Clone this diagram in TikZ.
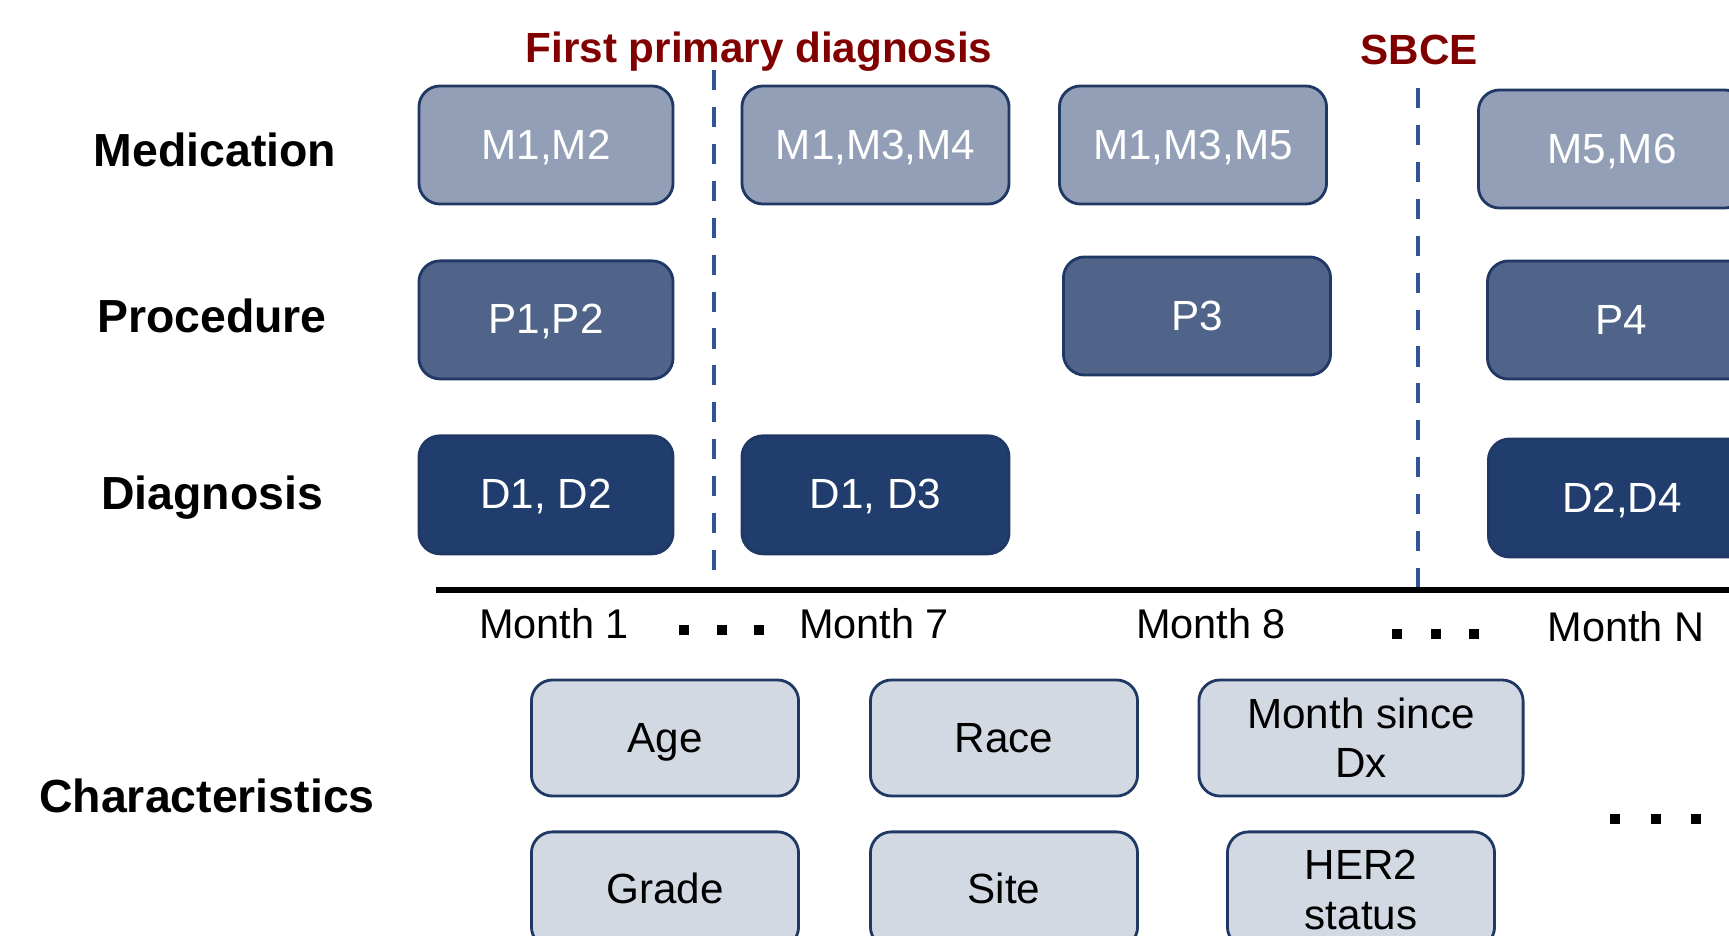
\documentclass[tikz,border=0pt]{standalone}
\usepackage{fontspec}
\setmainfont{Liberation Sans}
\usepackage{xcolor}
\usetikzlibrary{positioning}

\definecolor{medfill}{HTML}{929FB7}
\definecolor{procfill}{HTML}{506489}
\definecolor{diagfill}{HTML}{203D6D}
\definecolor{charfill}{HTML}{D3D9E3}
\definecolor{boxline}{HTML}{1F3864}
\definecolor{eventred}{HTML}{800000}
\definecolor{eventblue}{HTML}{2F5597}

\begin{document}
\begin{tikzpicture}[
    x=0.01cm, y=-0.01cm,
    every node/.style={align=center, font=\fontsize{12}{14}\selectfont}
]

\tikzset{
    codebox/.style={draw=boxline, line width=0.8pt, rounded corners=6pt, minimum width=2.67cm, minimum height=1.18cm, text=white, inner sep=2pt},
    oneline/.style={text height=0.8em, text depth=0em},
    medbox/.style={codebox, oneline, fill=medfill},
    procbox/.style={codebox, oneline, fill=procfill},
    diagbox/.style={codebox, oneline, fill=diagfill},
    charbox/.style={codebox, fill=charfill, text=black, minimum height=1.16cm},
    rowlabel/.style={font=\fontsize{13.2}{15}\selectfont\bfseries},
    eventlabel/.style={font=\fontsize{12}{14}\selectfont\bfseries, text=eventred},
    eventline/.style={draw=eventblue, line width=1.1pt, dash pattern=on 5.7pt off 4.8pt},
    monthlabel/.style={font=\fontsize{11.8}{14}\selectfont},
    dotmark/.style={fill=black, minimum size=3pt, inner sep=0pt}
}

\clip (0,0) rectangle (1729,936);

% row labels
\node [rowlabel] (medlabel) at (215,150) {Medication};
\node [rowlabel] (proclabel) at (212,316) {Procedure};
\node [rowlabel] (diaglabel) at (212,498) {Diagnosis};
\node [rowlabel] (charlabel) at (207,796) {Characteristics};

% events
\node [eventlabel] (firstdx) at (759,52) {First primary diagnosis};
\node [eventlabel] (sbce) at (1419,50) {SBCE};

\coordinate (firstdxtop) at (714,70);
\coordinate (firstdxbot) at (714,590);
\coordinate (sbcetop) at (1418,88);
\coordinate (sbcebot) at (1418,590);

\draw [eventline] (firstdxtop) -- (firstdxbot);
\draw [eventline] (sbcetop) -- (sbcebot);

% medication
\node [medbox, minimum width=2.54cm] (m12) at (546,145) {M1,M2};
\node [medbox] (m134) [right=0.66cm of m12] {M1,M3,M4};
\node [medbox] (m135) at (1193,145) {M1,M3,M5};
\node [medbox] (m56) at (1612,149) {M5,M6};

% procedure
\node [procbox, minimum width=2.54cm] (p12) [below=0.54cm of m12] {P1,P2};
\node [procbox] (p3) at (1197,316) {P3};
\node [procbox] (p4) at (1621,320) {P4};

% diagnosis
\node [diagbox, minimum width=2.54cm] (d12) [below=0.54cm of p12] {D1, D2};
\node [diagbox] (d13) [right=0.66cm of d12] {D1, D3};
\node [diagbox] (d24) at (1622,498) {D2,D4};

% time axis
\coordinate (tstart) at (436,590);
\coordinate (tend) at (1729,590);
\draw [line width=1.7pt] (tstart) -- (tend);

\node [monthlabel] (mon1) at (554,624) {Month 1};
\node [monthlabel] (mon7) at (874,624) {Month 7};
\node [monthlabel] (mon8) at (1211,624) {Month 8};
\node [monthlabel] (monN) at (1626,627) {Month N};

\foreach \i/\x in {1/684, 2/722, 3/759}
    \node [dotmark] (gapa-\i) at (\x,630) {};
\foreach \i/\x in {1/1397, 2/1436, 3/1474}
    \node [dotmark] (gapb-\i) at (\x,634) {};

% characteristics
\node [charbox, oneline] (age) at (665,738) {Age};
\node [charbox, oneline] (race) at (1004,738) {Race};
\node [charbox, minimum width=3.24cm] (since) at (1361,738) {Month since\\Dx};
\node [charbox, oneline] (grade) [below=0.33cm of age] {Grade};
\node [charbox, oneline] (site) [below=0.33cm of race] {Site};
\node [charbox] (her2) [below=0.33cm of since] {HER2\\status};

\foreach \i/\x in {1/1615, 2/1656, 3/1696}
    \node [dotmark] (gapc-\i) at (\x,819) {};

\end{tikzpicture}
\end{document}
